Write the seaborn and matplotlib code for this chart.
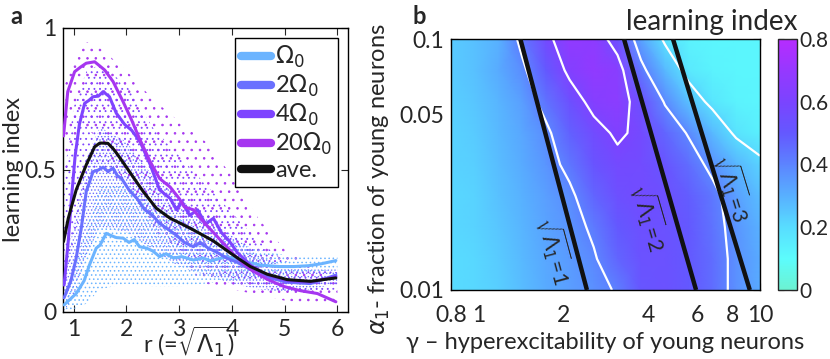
import numpy as np
import pandas as pd
import matplotlib
matplotlib.use("Agg")
import matplotlib.pyplot as plt
import seaborn as sns
from matplotlib.colors import LinearSegmentedColormap
from matplotlib.lines import Line2D
from matplotlib.ticker import FixedLocator, NullFormatter, MultipleLocator

# ---------------- data: panel a ----------------
r_om1 = [0.82, 1.05, 1.2, 1.30, 1.43, 1.5, 1.62, 1.7, 1.81, 1.94, 2.05, 2.15, 2.25, 2.38, 2.5, 2.63,
         2.75, 2.9, 3.05, 3.27, 3.45, 3.6, 3.9, 4.2, 4.54, 4.9, 5.17, 5.45, 5.7, 5.97]
li_om1 = [0.025, 0.065, 0.11, 0.165, 0.225, 0.235, 0.277, 0.27, 0.262, 0.26, 0.245, 0.255, 0.23, 0.225,
          0.215, 0.195, 0.205, 0.19, 0.195, 0.183, 0.19, 0.18, 0.195, 0.18, 0.165, 0.16, 0.16, 0.163,
          0.17, 0.181]
r_om2 = [0.82, 0.95, 1.05, 1.15, 1.24, 1.37, 1.47, 1.56, 1.65, 1.75, 1.83, 1.91, 2.05, 2.2, 2.35, 2.5,
         2.63, 2.8, 2.95, 3.1, 3.27, 3.4, 3.55, 3.72, 3.9, 4.1, 4.35, 4.67, 5.05, 5.49, 5.97]
li_om2 = [0.05, 0.11, 0.19, 0.30, 0.424, 0.494, 0.50, 0.51, 0.495, 0.506, 0.48, 0.47, 0.43, 0.40, 0.36,
          0.34, 0.312, 0.29, 0.27, 0.245, 0.23, 0.245, 0.225, 0.21, 0.19, 0.175, 0.15, 0.122, 0.105,
          0.10, 0.13]
r_om4 = [0.82, 0.9, 0.96, 1.03, 1.11, 1.21, 1.29, 1.37, 1.47, 1.56, 1.68, 1.81, 1.97, 2.1, 2.26, 2.45,
         2.63, 2.83, 2.95, 3.05, 3.2, 3.35, 3.5, 3.65, 3.8, 3.95, 4.1, 4.35, 4.67, 5.05, 5.49, 5.97]
li_om4 = [0.095, 0.25, 0.40, 0.55, 0.66, 0.735, 0.745, 0.758, 0.76, 0.776, 0.758, 0.70, 0.66, 0.64,
          0.60, 0.52, 0.43, 0.40, 0.36, 0.39, 0.34, 0.36, 0.31, 0.33, 0.28, 0.25, 0.21, 0.165, 0.13,
          0.11, 0.105, 0.125]
r_om20 = [0.81, 0.89, 1.02, 1.13, 1.24, 1.40, 1.59, 1.75, 1.94, 2.10, 2.25, 2.45, 2.63, 2.83, 3.0, 3.1,
          3.27, 3.4, 3.55, 3.7, 3.9, 4.1, 4.35, 4.67, 4.98, 5.30, 5.62, 5.97]
li_om20 = [0.62, 0.776, 0.846, 0.862, 0.876, 0.881, 0.852, 0.811, 0.74, 0.676, 0.61, 0.53, 0.47, 0.44,
           0.40, 0.37, 0.36, 0.33, 0.30, 0.27, 0.23, 0.19, 0.15, 0.115, 0.09, 0.075, 0.065, 0.036]
r_ave = [0.81, 0.9, 1.05, 1.24, 1.40, 1.5, 1.65, 1.75, 1.84, 2.06, 2.32, 2.57, 2.83, 3.05, 3.27, 3.65,
         4.03, 4.35, 4.67, 5.05, 5.49, 5.97]
li_ave = [0.248, 0.33, 0.43, 0.518, 0.582, 0.595, 0.594, 0.575, 0.553, 0.494, 0.424, 0.365, 0.33, 0.31,
          0.289, 0.25, 0.2, 0.16, 0.133, 0.114, 0.108, 0.12]

# spread of the individual simulation points (cloud envelopes)
r_env = [0.8, 1.0, 1.25, 1.5, 2.0, 2.5, 3.0, 3.5, 4.0, 4.5, 5.0, 5.5, 6.0]
hi_om20 = [0.78, 0.9, 0.95, 0.93, 0.85, 0.75, 0.67, 0.6, 0.48, 0.33, 0.22, 0.16, 0.1]
lo_om20 = [0.45, 0.6, 0.65, 0.6, 0.45, 0.3, 0.18, 0.1, 0.08, 0.06, 0.04, 0.03, 0.02]
hi_om4 = [0.45, 0.72, 0.85, 0.87, 0.8, 0.65, 0.55, 0.45, 0.35, 0.25, 0.18, 0.15, 0.14]
lo_om4 = [0.05, 0.25, 0.45, 0.5, 0.45, 0.32, 0.22, 0.16, 0.12, 0.09, 0.07, 0.07, 0.08]
hi_om2 = [0.12, 0.3, 0.55, 0.65, 0.6, 0.48, 0.4, 0.33, 0.27, 0.2, 0.16, 0.15, 0.15]
lo_om2 = [0.0, 0.05, 0.2, 0.3, 0.28, 0.22, 0.16, 0.13, 0.1, 0.08, 0.07, 0.08, 0.1]
hi_om1 = [0.06, 0.14, 0.3, 0.45, 0.45, 0.38, 0.33, 0.28, 0.25, 0.22, 0.2, 0.2, 0.2]
lo_om1 = [0.0, 0.01, 0.03, 0.08, 0.1, 0.09, 0.09, 0.1, 0.11, 0.12, 0.13, 0.14, 0.15]

series_labels = [r'$\Omega_0$', r'2$\Omega_0$', r'4$\Omega_0$', r'20$\Omega_0$', 'ave.']
series_colors = ['#6cb4ff', '#6a70ff', '#7e44ff', '#a636f0', '#111111']

# ---------------- data: panel b ----------------
gamma_grid = [0.80, 0.97, 1.18, 1.43, 1.74, 2.11, 2.57, 3.12, 3.78, 4.60, 5.58, 6.78, 8.23, 10.0]
alpha_grid = [0.1, 0.075, 0.0562, 0.0422, 0.0316, 0.0237, 0.0178, 0.0133, 0.01]
li_grid = [
    [0.24, 0.26, 0.30, 0.43, 0.57, 0.68, 0.67, 0.54, 0.33, 0.18, 0.13, 0.12, 0.12, 0.12],
    [0.24, 0.26, 0.31, 0.38, 0.50, 0.63, 0.68, 0.65, 0.43, 0.28, 0.16, 0.13, 0.12, 0.12],
    [0.23, 0.25, 0.29, 0.34, 0.44, 0.54, 0.64, 0.66, 0.54, 0.39, 0.26, 0.17, 0.13, 0.12],
    [0.22, 0.24, 0.28, 0.32, 0.38, 0.48, 0.56, 0.62, 0.57, 0.47, 0.39, 0.28, 0.18, 0.14],
    [0.22, 0.23, 0.27, 0.31, 0.36, 0.43, 0.52, 0.57, 0.56, 0.52, 0.45, 0.37, 0.29, 0.22],
    [0.21, 0.22, 0.26, 0.30, 0.34, 0.38, 0.47, 0.54, 0.56, 0.54, 0.49, 0.43, 0.34, 0.27],
    [0.21, 0.22, 0.25, 0.29, 0.33, 0.36, 0.42, 0.50, 0.54, 0.53, 0.50, 0.44, 0.36, 0.30],
    [0.20, 0.21, 0.24, 0.28, 0.32, 0.35, 0.39, 0.47, 0.53, 0.53, 0.50, 0.45, 0.37, 0.31],
    [0.20, 0.21, 0.23, 0.27, 0.31, 0.34, 0.37, 0.41, 0.51, 0.53, 0.50, 0.45, 0.37, 0.31],
]
contour_levels = [0.2, 0.4, 0.6]
iso_r_values = [1, 2, 3]
iso_gamma_top = [1.41, 3.29, 4.91]      # at alpha = 0.1
iso_gamma_bottom = [2.43, 5.93, 9.2]    # at alpha = 0.01
iso_label_pos = [(1.87, 0.0144), (4.07, 0.0195), (8.0, 0.0257)]
iso_label_rot = [-75, -74, -73]

cbar_ticks = [0, 0.2, 0.4, 0.6, 0.8]
cmap_colors = ['#6cf2d2', '#5cfcfc', '#58dcff', '#58b0ff', '#5c84ff', '#6458ff', '#7a44ff', '#9638ff',
               '#b62cff']

# ---------------- style ----------------
sns.set_style('ticks')
plt.rcParams['font.family'] = ['Lato', 'DejaVu Sans']
plt.rcParams['mathtext.fontset'] = 'dejavusans'
plt.rcParams['hatch.linewidth'] = 0.6
plt.rcParams['axes.linewidth'] = 1.0

W, H = 830, 359
fig = plt.figure(figsize=(W / 100, H / 100), dpi=100)

def fbox(l, t, r, b):
    return [l / W, 1 - b / H, (r - l) / W, (b - t) / H]

TICK = 16.5
LAB = 17

# ---------------- panel a ----------------
ax = fig.add_axes(fbox(63, 28, 348, 312))
env = [(lo_om1, hi_om1), (lo_om2, hi_om2), (lo_om4, hi_om4), (lo_om20, hi_om20)]
hatches = ['....', '.....', '...', '..']
for (lo, hi), col, hat in zip(env[::-1], series_colors[:4][::-1], hatches[::-1]):
    ax.fill_between(r_env, lo, hi, facecolor='none', edgecolor=col, hatch=hat, linewidth=0, zorder=1)

rows = []
for lab, rr, vv in zip(series_labels,
                       [r_om1, r_om2, r_om4, r_om20, r_ave],
                       [li_om1, li_om2, li_om4, li_om20, li_ave]):
    for a_, b_ in zip(rr, vv):
        rows.append({'r': a_, 'li': b_, 'series': lab})
df = pd.DataFrame(rows)
sns.lineplot(data=df, x='r', y='li', hue='series', hue_order=series_labels,
             palette=dict(zip(series_labels, series_colors)), estimator=None, sort=False,
             linewidth=2.2, legend=False, ax=ax, zorder=3)

ax.set_xlim(0.8, 6.2)
ax.set_ylim(0, 1)
ax.set_xticks([1, 2, 3, 4, 5, 6])
ax.set_yticks([0, 0.5, 1])
ax.set_yticklabels(['0', '0.5', '1'])
ax.tick_params(direction='in', top=True, right=True, length=5, labelsize=TICK, pad=5)
ax.set_ylabel('learning index', fontsize=LAB, labelpad=0)
ax.set_xlabel(r'r (=$\sqrt{\Lambda_1}$)', fontsize=LAB)
ax.xaxis.set_label_coords(0.44, -0.042)
for s in ax.spines.values():
    s.set_visible(True)
    s.set_color('black')

handles = [Line2D([0], [0], color=c, lw=6) for c in series_colors]
leg = ax.legend(handles, series_labels, loc='upper right', bbox_to_anchor=(0.965, 0.965),
                borderaxespad=0, fontsize=17, frameon=True, fancybox=False, framealpha=1,
                edgecolor='black', handlelength=1.3, handletextpad=0.15, labelspacing=0.12,
                borderpad=0.25)
leg.get_frame().set_linewidth(1.0)

# ---------------- panel b ----------------
cmap = LinearSegmentedColormap.from_list('li', cmap_colors)
bx = fig.add_axes(fbox(451, 39, 760, 290))
G, A = np.meshgrid(gamma_grid, alpha_grid)
Z = np.array(li_grid)
mesh = bx.pcolormesh(G, A, Z, cmap=cmap, vmin=0, vmax=0.8, shading='gouraud', zorder=1)
bx.contour(G, A, Z, levels=contour_levels, colors='white', linewidths=1.6, zorder=2)
for gt, gb in zip(iso_gamma_top, iso_gamma_bottom):
    bx.plot([gt, gb], [0.1, 0.01], color='#111111', lw=3.2, zorder=3, solid_capstyle='butt')
for rv, (gx, ay), rot in zip(iso_r_values, iso_label_pos, iso_label_rot):
    bx.text(gx, ay, r'$\sqrt{\Lambda_1}$=%d' % rv, rotation=rot, rotation_mode='anchor',
            ha='center', va='center', fontsize=15, zorder=4)
bx.set_xscale('log')
bx.set_yscale('log')
bx.set_xlim(0.8, 10)
bx.set_ylim(0.01, 0.1)
bx.xaxis.set_major_locator(FixedLocator([0.8, 1, 2, 4, 6, 8, 10]))
bx.xaxis.set_minor_locator(FixedLocator([0.9, 3, 5, 7, 9]))
bx.set_xticklabels(['0.8', '1', '2', '4', '6', '8', '10'])
bx.xaxis.set_minor_formatter(NullFormatter())
bx.yaxis.set_major_locator(FixedLocator([0.01, 0.05, 0.1]))
bx.yaxis.set_minor_locator(FixedLocator([0.02, 0.03, 0.04, 0.06, 0.07, 0.08, 0.09]))
bx.set_yticklabels(['0.01', '0.05', '0.1'])
bx.yaxis.set_minor_formatter(NullFormatter())
bx.tick_params(which='both', direction='in', top=True, right=True, labelsize=TICK, pad=5)
bx.tick_params(axis='x', which='both', pad=11)
bx.tick_params(which='major', length=5)
bx.tick_params(which='minor', length=3)
bx.set_xlabel('γ – hyperexcitability of young neurons', fontsize=LAB, labelpad=4)
bx.set_ylabel(r'$\alpha_1$- fraction of young neurons', fontsize=LAB, labelpad=0)
bx.yaxis.set_label_coords(-0.19, 0.44)
for s in bx.spines.values():
    s.set_visible(True)
    s.set_color('black')

cax = fig.add_axes(fbox(778, 39, 797, 290))
cb = fig.colorbar(mesh, cax=cax, ticks=cbar_ticks)
cb.ax.set_yticklabels(['0', '0.2', '0.4', '0.6', '0.8'])
cb.ax.yaxis.set_minor_locator(MultipleLocator(0.1))
cb.ax.tick_params(which='both', direction='in', left=True, right=True, labelsize=15, pad=2)
cb.ax.tick_params(which='major', length=4)
cb.ax.tick_params(which='minor', length=4)
cb.outline.set_linewidth(1.0)
fig.text(797 / W, 1 - 22 / H, 'learning index', ha='right', va='center', fontsize=20)

fig.text(10 / W, 1 - 16 / H, 'a', fontsize=17, fontweight='bold', va='center')
fig.text(412 / W, 1 - 16 / H, 'b', fontsize=17, fontweight='bold', va='center')

fig.savefig('out.png', dpi=100)
